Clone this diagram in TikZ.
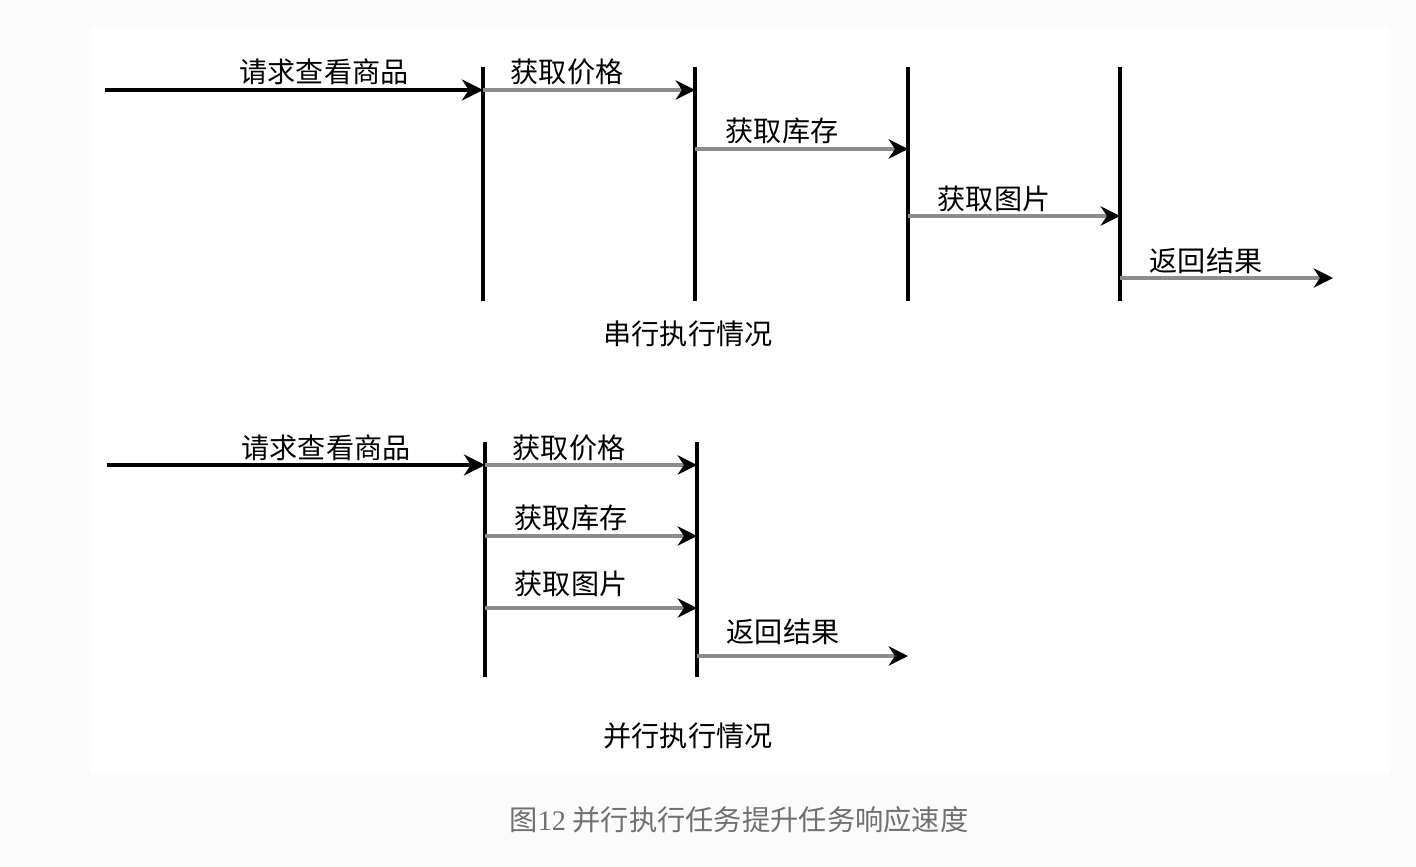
\documentclass[tikz,border=0pt]{standalone}
\usepackage{fontspec}
\setmainfont{Noto Sans CJK SC}
\newfontfamily\capnum{Liberation Serif}
\usetikzlibrary{arrows.meta}
\definecolor{callgray}{HTML}{8C8C8C}
\definecolor{capgray}{HTML}{707070}
\tikzset{
  bar/.style={line width=2.1pt,black},
  req/.style={line width=2.6pt,-{Stealth[length=12pt,width=12pt]}},
  call/.style={line width=2pt,callgray,-{Stealth[length=11pt,width=11pt,black]}},
  lbl/.style={font=\fontsize{16}{19}\selectfont,inner sep=0pt},
}
\begin{document}
\begin{tikzpicture}[x=0.02cm,y=-0.02cm]
\fill[gray!3] (0,0) rectangle (1416,866);
\fill[white] (90,28) rectangle (1390,774);
% serial
\coordinate (s0) at (105,90);
\foreach \n/\x in {1/483,2/695,3/908,4/1120}{
  \coordinate (st\n) at (\x,67);
  \coordinate (sb\n) at (\x,301);
  \draw[bar] (st\n) -- (sb\n);
}
\coordinate (sa1) at (483,90);
\coordinate (sa2) at (695,90);
\coordinate (sb2a) at (695,149);
\coordinate (sb3a) at (908,149);
\coordinate (sc3) at (908,216);
\coordinate (sc4) at (1120,216);
\coordinate (sd4) at (1120,278);
\coordinate (send) at (1333,278);
\draw[req] (s0) -- (sa1);
\draw[call] (sa1) -- (sa2);
\draw[call] (sb2a) -- (sb3a);
\draw[call] (sc3) -- (sc4);
\draw[call] (sd4) -- (send);
\node[lbl] (sreq) at (324,72) {请求查看商品};
\node[lbl] (sprice) at (567,72) {获取价格};
\node[lbl] (sstock) at (782,131) {获取库存};
\node[lbl] (simg) at (994,199) {获取图片};
\node[lbl] (sret) at (1206,261) {返回结果};
\node[lbl] (stitle) at (688,334) {串行执行情况};
% parallel
\coordinate (p0) at (107,465);
\foreach \n/\x in {1/485,2/697}{
  \coordinate (pt\n) at (\x,442);
  \coordinate (pb\n) at (\x,677);
  \draw[bar] (pt\n) -- (pb\n);
}
\foreach \n/\y in {1/465,2/536,3/608}{
  \coordinate (pl\n) at (485,\y);
  \coordinate (pr\n) at (697,\y);
  \draw[call] (pl\n) -- (pr\n);
}
\coordinate (pret) at (697,656);
\coordinate (pend) at (908,656);
\draw[req] (p0) -- (pl1);
\draw[call] (pret) -- (pend);
\node[lbl] (preq) at (326,448) {请求查看商品};
\node[lbl] (pprice) at (569,448) {获取价格};
\node[lbl] (pstock) at (571,518) {获取库存};
\node[lbl] (pimg) at (571,584) {获取图片};
\node[lbl] (pretl) at (783,632) {返回结果};
\node[lbl] (ptitle) at (688,736) {并行执行情况};
\node[lbl,text=capgray,font=\fontsize{16.1}{19}\selectfont] (caption) at (739,820) {图{\capnum 12} 并行执行任务提升任务响应速度};
\end{tikzpicture}
\end{document}
